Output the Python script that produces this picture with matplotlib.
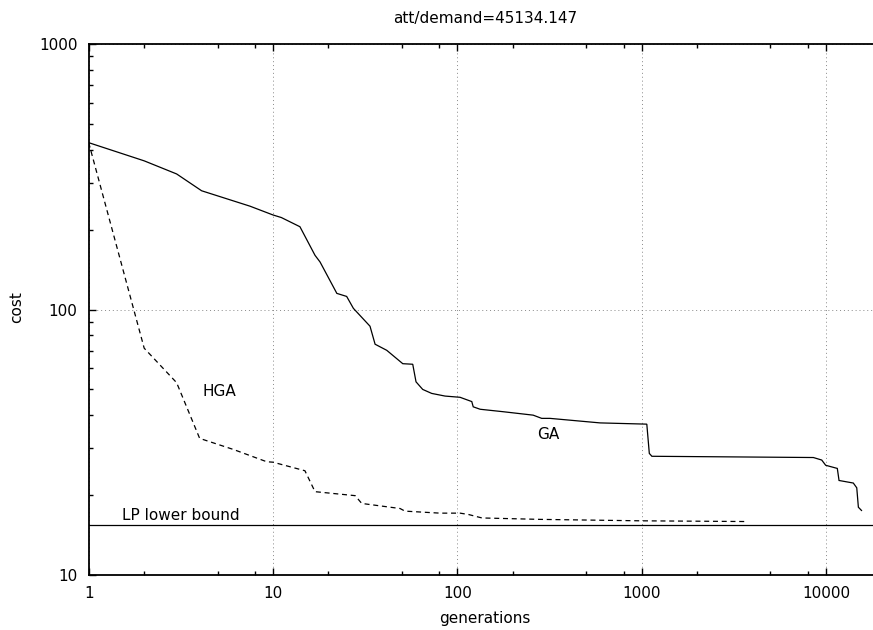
import matplotlib
matplotlib.use("Agg")
import matplotlib.pyplot as plt
from matplotlib.ticker import LogLocator, NullFormatter, FixedLocator

plt.rcParams['font.family'] = ['DejaVu Sans']

title = "att/demand=45134.147"
xlabel = "generations"
ylabel = "cost"

ga_x = [1, 2, 3, 4.1, 7.5, 10, 11.1, 14, 16.9, 18, 22.2, 25.1, 27.3, 33.6, 35.8,
        41.4, 50.6, 57.3, 59.7, 64.9, 72.6, 85.8, 103.5, 119.8, 122, 133, 178,
        258, 287, 318, 595, 1067, 1101, 1137, 8550, 9490, 9970, 11530, 11780,
        14080, 14700, 15000, 15600]
ga_y = [425, 363, 324, 280, 245, 227, 222, 205, 160, 151, 115, 112, 101, 86.5,
        74, 70.2, 62.5, 62.2, 53.4, 50, 48.3, 47.2, 46.7, 45, 43, 42.1, 41.2,
        40, 38.9, 38.9, 37.4, 37, 28.7, 28, 27.7, 27.1, 25.9, 25.2, 22.7, 22.2,
        21.3, 18.0, 17.5]

hga_x = [1, 2, 3, 4, 6.1, 9.25, 10, 14.9, 16.9, 27.9, 30.3, 48.9, 52, 80.5,
         103.5, 115, 136, 281, 980, 3640]
hga_y = [425, 71.5, 53, 32.7, 29.7, 26.7, 26.6, 24.7, 20.6, 19.9, 18.6, 17.8,
         17.4, 17.1, 17.1, 16.9, 16.4, 16.2, 16.0, 15.9]

lp_bound = 15.4

x_major = [1, 10, 100, 1000, 10000]
x_major_labels = ["1", "10", "100", "1000", "10000"]
y_major = [10, 100, 1000]
y_major_labels = ["10", "100", "1000"]

W, H = 873, 630
fig = plt.figure(figsize=(W / 100, H / 100), dpi=100)
left, right, top, bottom = 88.7, 881.4, 44, 575
ax = fig.add_axes([left / W, 1 - bottom / H, (right - left) / W, (bottom - top) / H])

ax.set_xscale('log')
ax.set_yscale('log')
ax.set_xlim(1, 20000)
ax.set_ylim(10, 1000)

ax.plot(ga_x, ga_y, color='black', lw=0.9, solid_joinstyle='miter')
ax.plot(hga_x, hga_y, color='black', lw=0.9, linestyle=(0, (4, 3)))
ax.axhline(lp_bound, color='black', lw=0.9)

ax.xaxis.set_major_locator(FixedLocator(x_major))
ax.set_xticklabels(x_major_labels)
ax.xaxis.set_minor_locator(LogLocator(base=10, subs=[2, 5, 8]))
ax.xaxis.set_minor_formatter(NullFormatter())
ax.yaxis.set_major_locator(FixedLocator(y_major))
ax.set_yticklabels(y_major_labels)
ax.yaxis.set_minor_locator(LogLocator(base=10, subs=[2, 3, 4, 5, 6, 7, 8, 9]))
ax.yaxis.set_minor_formatter(NullFormatter())

ax.tick_params(which='both', direction='in', top=True, right=True, labelsize=11, width=1)
ax.tick_params(which='major', length=5)
ax.tick_params(which='minor', length=3)
ax.tick_params(axis='x', which='major', pad=8)
ax.tick_params(axis='y', which='major', pad=8)

for s in ax.spines.values():
    s.set_linewidth(1.3)

ax.grid(True, which='major', linestyle=(0, (1, 3)), color='#888888', lw=0.7)

ax.text(5.1, 49.3, "HGA", fontsize=11, ha='center', va='center')
ax.text(311, 33.7, "GA", fontsize=11, ha='center', va='center')
ax.text(1.52, 16.7, "LP lower bound", fontsize=11, ha='left', va='center')

fig.text(485 / W, 1 - 19 / H, title, fontsize=11, ha='center', va='center')
fig.text(485 / W, 1 - 619 / H, xlabel, fontsize=11, ha='center', va='center')
fig.text(17 / W, 1 - 307 / H, ylabel, fontsize=11, ha='center', va='center', rotation=90)

fig.savefig("out.png", dpi=100)
